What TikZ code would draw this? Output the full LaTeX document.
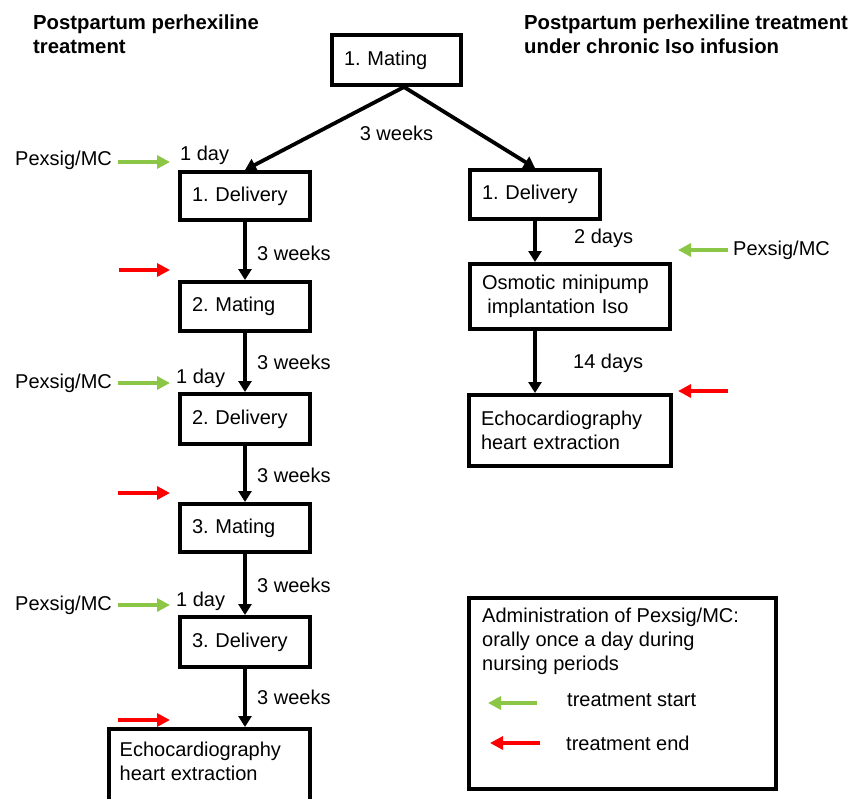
\documentclass[tikz,border=0pt]{standalone}
\usepackage{fontspec}
\setmainfont{Liberation Sans}
\usetikzlibrary{arrows.meta}
\definecolor{pexgreen}{RGB}{140,198,70}
\definecolor{pexred}{RGB}{255,0,0}
\frenchspacing
\begin{document}
\begin{tikzpicture}[x=1pt,y=-1pt,
  every node/.style={font=\fontsize{20}{24}\selectfont},
  stepbox/.style={draw, line width=4pt, inner xsep=12pt, inner ysep=0pt, align=left},
  titletext/.style={inner sep=0pt, anchor=north west, align=left, font=\bfseries\fontsize{20.3}{24}\selectfont},
  lbl/.style={inner sep=0pt, anchor=west},
  conn/.style={line width=3.8pt, -{Triangle[length=11pt,width=13pt]}},
  startarr/.style={pexgreen, line width=4.5pt, -{Triangle[length=13pt,width=13pt]}},
  endarr/.style={pexred, line width=4.5pt, -{Triangle[length=13pt,width=13pt]}}
]
\useasboundingbox (0,0) rectangle (848,798);
\clip (0,0) rectangle (848,798);

% titles
\node[titletext] (titleL) at (33,14.5) {Postpartum perhexiline\\treatment};
\node[titletext] (titleR) at (524,14.5) {Postpartum perhexiline treatment\\under chronic Iso infusion};

% left column boxes
\node[stepbox, minimum width=129pt, minimum height=50pt, text width=105pt] (mat1) at (396.5,60) {1. Mating};
\node[stepbox, minimum width=130pt, minimum height=48pt, text width=106pt] (del1L) at (245,196) {1. Delivery};
\node[stepbox, minimum width=130pt, minimum height=49pt, text width=106pt] (mat2) at (245,306.5) {2. Mating};
\node[stepbox, minimum width=130pt, minimum height=50pt, text width=106pt] (del2) at (245,419) {2. Delivery};
\node[stepbox, minimum width=130pt, minimum height=48pt, text width=106pt] (mat3) at (245,528) {3. Mating};
\node[stepbox, minimum width=130pt, minimum height=50pt, text width=106pt] (del3) at (245,642) {3. Delivery};
\node[stepbox, minimum width=201pt, minimum height=73pt, inner sep=0pt] (echoL) at (209.5,765.5) {};
\node[inner sep=0pt, anchor=north west, align=left] (echoLtext) at ([xshift=12.5pt,yshift=-15pt]echoL.north west) {Echocardiography\\heart extraction};

% right column boxes
\node[stepbox, minimum width=130pt, minimum height=49pt, text width=106pt] (del1R) at (535,194.5) {1. Delivery};
\node[stepbox, minimum width=200pt, minimum height=65pt, text width=176pt] (osm) at (570,296.5) {Osmotic minipump\\\hspace*{5.4pt}implantation Iso};
\node[stepbox, minimum width=202pt, minimum height=71pt, text width=178pt] (echoR) at (570,430.5) {Echocardiography\\heart extraction};

% legend
\node[draw, line width=4pt, minimum width=307pt, minimum height=191pt, inner sep=0pt] (legend) at (622.5,693.5) {};
\node[inner sep=0pt, anchor=north west, align=left] (legtext) at (482,607.5) {Administration of Pexsig/MC:\\orally once a day during\\nursing periods};
\node[lbl] (legstart) at (567,700) {treatment start};
\node[lbl] (legend2) at (566,743) {treatment end};
\coordinate (lgA) at (537,703); \coordinate (lgB) at (488,703);
\coordinate (lrA) at (540,743); \coordinate (lrB) at (490,743);
\draw[startarr] (lgA) -- (lgB);
\draw[endarr] (lrA) -- (lrB);

% black connectors
\draw[conn] ([xshift=7.5pt]mat1.south) -- (del1L.north);
\draw[conn] ([xshift=7.5pt]mat1.south) -- (del1R.north);
\draw[conn] (del1L.south) -- (mat2.north);
\draw[conn] (mat2.south) -- (del2.north);
\draw[conn] (del2.south) -- (mat3.north);
\draw[conn] (mat3.south) -- (del3.north);
\draw[conn] (del3.south) -- (echoL.north -| del3.south);
\draw[conn] (del1R.south) -- (del1R.south |- osm.north);
\draw[conn] (del1R.south |- osm.south) -- (del1R.south |- echoR.north);

% time labels
\node[inner sep=0pt] (wk0) at (396.5,133) {3 weeks};
\node[lbl] (day1) at (180,155) {1 day};
\node[lbl] (wk1) at (257,253) {3 weeks};
\node[lbl] (wk2) at (257,362) {3 weeks};
\node[lbl] (day2) at (176,378) {1 day};
\node[lbl] (wk3) at (257,475) {3 weeks};
\node[lbl] (wk4) at (257,585) {3 weeks};
\node[lbl] (day3) at (176,601) {1 day};
\node[lbl] (wk5) at (257,697) {3 weeks};
\node[lbl] (days2) at (574,238) {2 days};
\node[lbl] (days14) at (573,363) {14 days};

% treatment labels and arrows
\node[lbl] (pex1) at (15,160) {Pexsig/MC};
\node[lbl] (pex2) at (15,383) {Pexsig/MC};
\node[lbl] (pex3) at (15,605) {Pexsig/MC};
\node[lbl] (pexR) at (733,250) {Pexsig/MC};

\coordinate (g1a) at (118,162); \coordinate (g1b) at (170,162);
\coordinate (g2a) at (118,383); \coordinate (g2b) at (170,383);
\coordinate (g3a) at (118,605); \coordinate (g3b) at (170,605);
\coordinate (gRa) at (728,250); \coordinate (gRb) at (678,250);
\draw[startarr] (g1a) -- (g1b);
\draw[startarr] (g2a) -- (g2b);
\draw[startarr] (g3a) -- (g3b);
\draw[startarr] (gRa) -- (gRb);

\coordinate (r1a) at (119,270); \coordinate (r1b) at (170,270);
\coordinate (r2a) at (118,493); \coordinate (r2b) at (170,493);
\coordinate (r3a) at (118,720); \coordinate (r3b) at (170,720);
\coordinate (rRa) at (728,391); \coordinate (rRb) at (678,391);
\draw[endarr] (r1a) -- (r1b);
\draw[endarr] (r2a) -- (r2b);
\draw[endarr] (r3a) -- (r3b);
\draw[endarr] (rRa) -- (rRb);
\end{tikzpicture}
\end{document}
